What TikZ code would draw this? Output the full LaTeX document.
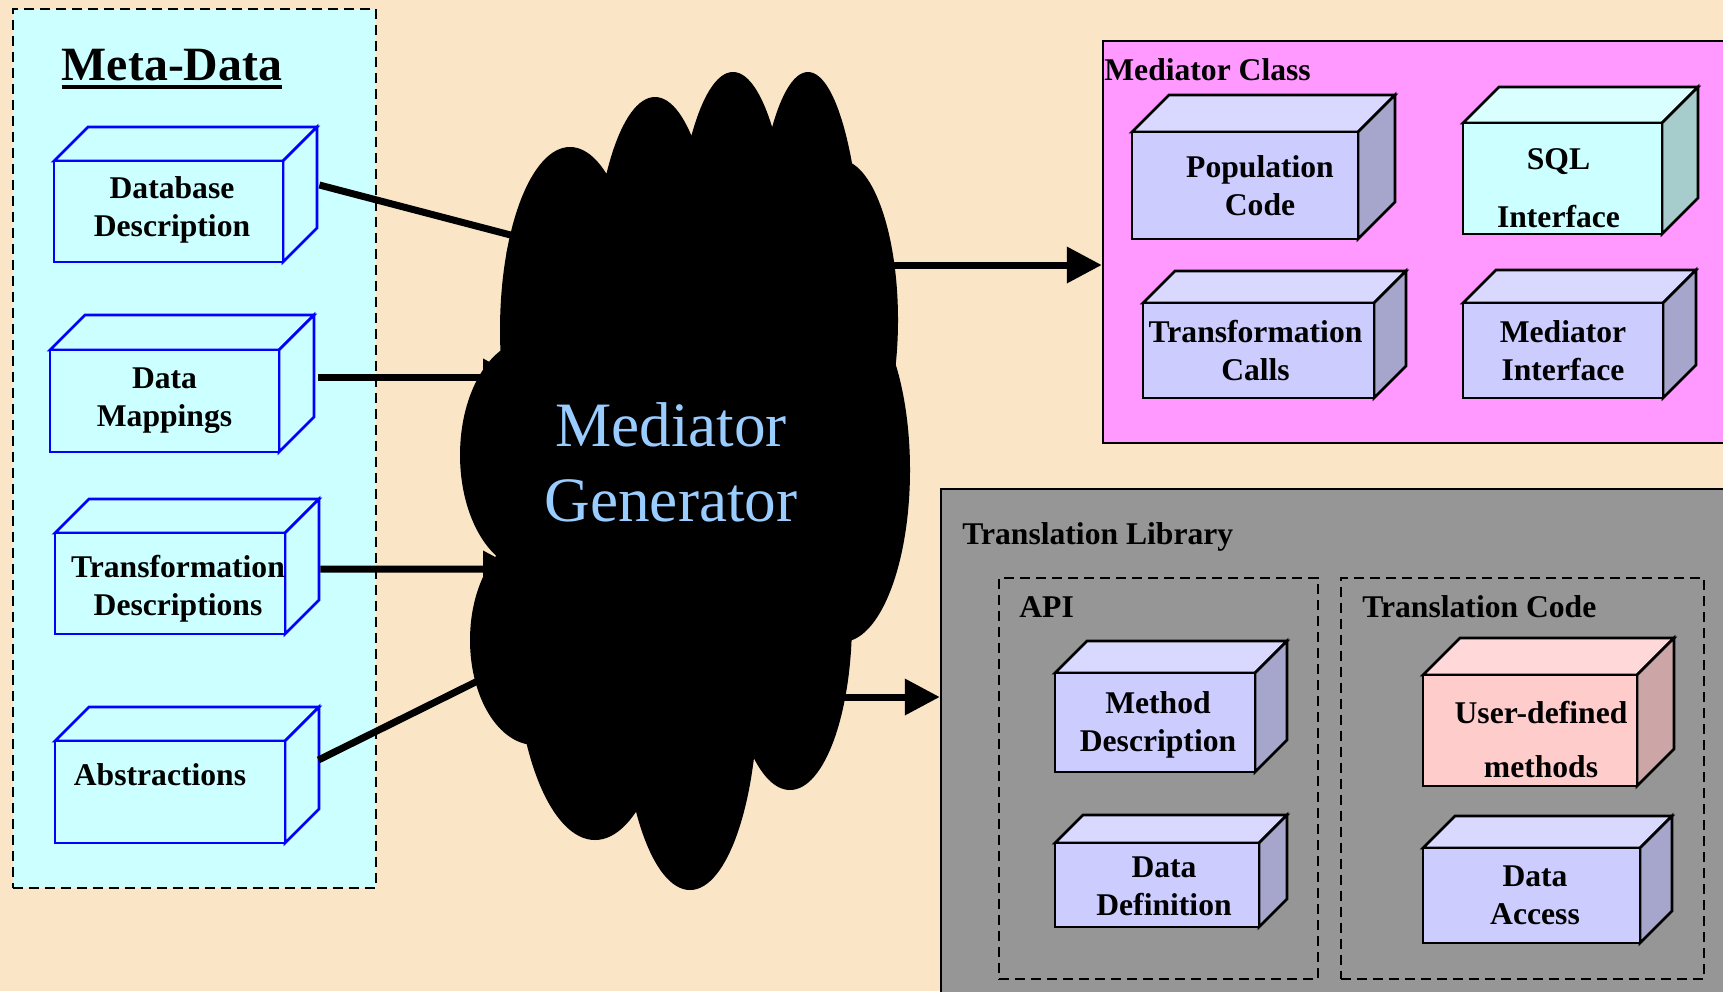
\documentclass[tikz,border=0pt]{standalone}
\usepackage{fontspec}
\setmainfont{Liberation Serif}
\usetikzlibrary{arrows.meta,fit}

\definecolor{paper}{RGB}{250,230,198}
\definecolor{metaFront}{HTML}{CCFFFF}
\definecolor{metaTop}{HTML}{CCFFFF}
\definecolor{metaSide}{HTML}{CCFFFF}
\definecolor{metaLine}{HTML}{0000FF}
\definecolor{lavFront}{HTML}{CCCCFF}
\definecolor{lavTop}{HTML}{D9D9FF}
\definecolor{lavSide}{HTML}{A6A6CC}
\definecolor{lavLine}{HTML}{000000}
\definecolor{cyanFront}{HTML}{CCFFFF}
\definecolor{cyanTop}{HTML}{D9FFFF}
\definecolor{cyanSide}{HTML}{A6CCCC}
\definecolor{cyanLine}{HTML}{000000}
\definecolor{pinkFront}{HTML}{FFCCCC}
\definecolor{pinkTop}{HTML}{FFD9D9}
\definecolor{pinkSide}{HTML}{CCA6A6}
\definecolor{pinkLine}{HTML}{000000}
\definecolor{classPink}{HTML}{FF99FF}
\definecolor{libGray}{HTML}{969696}
\definecolor{genBlue}{HTML}{99CCFF}

\tikzset{
  cubeline/.style={line width=0.055cm, line join=miter},
  panel/.style={draw=black, line width=0.05cm, inner sep=0pt},
  framebox/.style={draw=black, dash pattern=on 0.2cm off 0.12cm, line width=0.055cm, inner sep=0pt},
  boxtext/.style={font=\fontsize{18}{21.6}\selectfont\bfseries, align=center, inner sep=0pt},
  paneltitle/.style={font=\fontsize{18}{21.6}\selectfont\bfseries, anchor=base west, inner sep=0pt},
  feed/.style={line width=0.14cm, -{Triangle[length=0.7cm,width=0.7cm]}},
}

\begin{document}
\begin{tikzpicture}[x=0.02cm, y=-0.02cm]
%definitions
\def\cuboid#1#2#3#4#5#6#7#8#9{%
  \filldraw[cubeline, draw=#2Line, fill=#2Top] (#3,#4) -- ++(#7,-#7) -- (#5+#7,#4-#7) -- (#5,#4) -- cycle;
  \filldraw[cubeline, draw=#2Line, fill=#2Side] (#5,#4) -- (#5+#7,#4-#7) -- (#5+#7,#6-#7) -- (#5,#6) -- cycle;
  \node[cubeline, draw=#2Line, fill=#2Front, fit={(#3,#4) (#5,#6)}, inner sep=0pt] (#1) {};
  \node[boxtext] (#1-text) at ([shift={(#8)}]#1.center) {#9};}

\useasboundingbox (0,0) rectangle (1723,991);
\clip (0,0) rectangle (1723,991);
\fill[paper] (0,0) rectangle (1723,991);

% meta-data
\node[framebox, fill=metaFront, fit={(13,9) (376,888)}] (metapanel) {};
\node[font=\fontsize{27.2}{32}\selectfont\bfseries, anchor=base, inner sep=0pt] (metatitle) at (172,80) {Meta-Data};
\draw[line width=0.08cm] ([yshift=-0.14cm]metatitle.base west) -- ([yshift=-0.14cm]metatitle.base east);
\cuboid{dbdesc}{meta}{54}{161}{283}{262}{34}{3.5,-2}{Database\\Description}
\cuboid{datamap}{meta}{50}{350}{279}{452}{35}{0,0}{Data\\Mappings}
\cuboid{transdesc}{meta}{55}{533}{285}{634}{34}{8,5}{Transformation\\Descriptions}
\cuboid{abstr}{meta}{55}{741}{285}{843}{34}{-10,-17}{Abstractions}

% mediator class
\node[panel, fill=classPink, fit={(1103,41) (1745,443)}] (medpanel) {};
\node[paneltitle] (medlabel) at (1104,80) {Mediator Class};
\cuboid{popcode}{lav}{1132}{132}{1358}{239}{37}{15,0}{Population\\Code}
\cuboid{sqlif}{cyan}{1463}{123}{1662}{234}{36}{-4,9.5}{SQL\\[11.3pt]Interface}
\cuboid{transcall}{lav}{1143}{303}{1374}{398}{32}{-3,0}{Transformation\\Calls}
\cuboid{medif}{lav}{1463}{303}{1663}{398}{33}{0,0}{Mediator\\Interface}

% translation library
\node[panel, fill=libGray, fit={(941,489) (1745,1010)}] (libpanel) {};
\node[paneltitle] (liblabel) at (962,544) {Translation Library};
\node[framebox, fit={(999,578) (1318,979)}] (apibox) {};
\node[framebox, fit={(1341,578) (1704,979)}] (codebox) {};
\node[paneltitle] (apilabel) at (1019,617) {API};
\node[paneltitle] (codelabel) at (1362,617) {Translation Code};
\cuboid{methdesc}{lav}{1055}{673}{1255}{772}{32}{3,2}{Method\\Description}
\cuboid{datadef}{lav}{1055}{843}{1259}{927}{28}{7,1}{Data\\Definition}
\cuboid{userdef}{pink}{1423}{675}{1637}{786}{37}{11,9}{User-defined\\[9.6pt]methods}
\cuboid{dataacc}{lav}{1423}{848}{1640}{943}{32}{3.5,0}{Data\\Access}

% generator inputs and outputs
\coordinate (genIn1) at (545,244);
\coordinate (genIn2) at (518,377);
\coordinate (genIn3) at (518,569);
\coordinate (genIn4) at (520,660);
\coordinate (genOut1) at (880,265);
\coordinate (genOut2) at (830,697);
\draw[feed] ([shift={(35,-26.5)}]dbdesc.east) -- (genIn1);
\draw[feed] ([shift={(38,-24)}]datamap.east) -- (genIn2);
\draw[feed] ([shift={(34,-14.5)}]transdesc.east) -- (genIn3);
\draw[feed] ([shift={(32,-32)}]abstr.east) -- (genIn4);

% cloud
\fill[black] (570,330) ellipse [x radius=70, y radius=183]
  (655,300) ellipse [x radius=62, y radius=203]
  (733,300) ellipse [x radius=60, y radius=228]
  (808,300) ellipse [x radius=55, y radius=228]
  (840,320) ellipse [x radius=58, y radius=160]
  (842,470) ellipse [x radius=68, y radius=172]
  (790,620) ellipse [x radius=62, y radius=170]
  (690,690) ellipse [x radius=68, y radius=200]
  (595,640) ellipse [x radius=80, y radius=200]
  (535,640) ellipse [x radius=65, y radius=105]
  (530,455) ellipse [x radius=70, y radius=115]
  (690,470) ellipse [x radius=190, y radius=300];
\node[font=\fontsize{36}{42.5}\selectfont, text=genBlue, align=center, inner sep=0pt] (gen) at (671,462.5) {Mediator\\Generator};

\draw[feed] (genOut1) -- (genOut1 -| medpanel.west);
\draw[feed] (genOut2) -- (genOut2 -| libpanel.west);
\end{tikzpicture}
\end{document}
